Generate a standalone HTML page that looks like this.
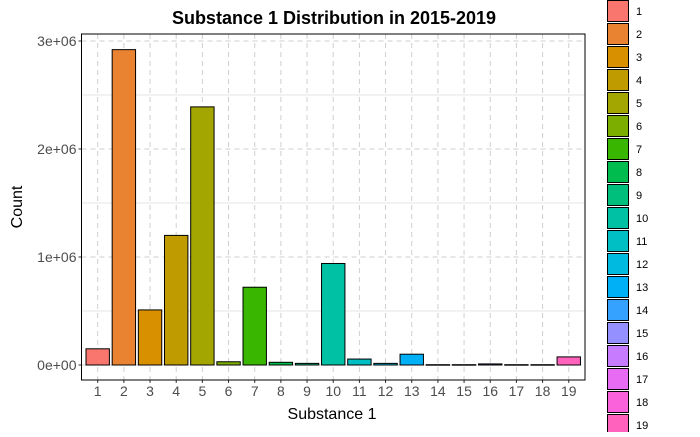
<!DOCTYPE html>
<html><head><meta charset="utf-8"><style>
body{margin:0;background:#fff;width:700px;height:432px;overflow:hidden;font-family:"Liberation Sans",sans-serif}
</style></head><body>
<svg id="c" width="700" height="432" xmlns="http://www.w3.org/2000/svg">
<text x="334" y="24" text-anchor="middle" font-size="18" font-weight="bold" fill="#000">Substance 1 Distribution in 2015-2019</text>
<text x="332" y="419" text-anchor="middle" font-size="16" fill="#000">Substance 1</text>
<text transform="translate(22,207) rotate(-90)" text-anchor="middle" font-size="16" fill="#000">Count</text>
<g id="grid"></g><g id="bars"></g><g id="axes"></g><g id="legend"></g>
</svg>
<script>
const categories=["1","2","3","4","5","6","7","8","9","10","11","12","13","14","15","16","17","18","19"];
const counts=[150000,2920000,510000,1200000,2390000,30000,720000,25000,15000,940000,55000,15000,100000,3000,3000,10000,3000,3000,75000];
const colors=["#F8766D","#EA8331","#D89000","#C09B00","#A3A500","#7CAE00","#39B600","#00BB4E","#00BF7D","#00C1A3","#00BFC4","#00BAE0","#00B0F6","#35A2FF","#9590FF","#C77CFF","#E76BF3","#FA62DB","#FF62BC"];
const yTicks=[0,1000000,2000000,3000000];
const yTickLabels=["0e+00","1e+06","2e+06","3e+06"];
const NS="http://www.w3.org/2000/svg";
const L=81.5,R=585,T=34,B=380;
const x0=97.7,step=26.17;
function xs(i){return x0+i*step;}
function ys(v){return 365-v*108/1e6;}
function mk(p,tag,a){const e=document.createElementNS(NS,tag);for(const k in a)e.setAttribute(k,a[k]);document.getElementById(p).appendChild(e);return e;}
// minor grid
for(let i=0;i<yTicks.length;i++){
 const m=mk('grid','line',{x1:L,x2:R,y1:ys(yTicks[i]+500000),y2:ys(yTicks[i]+500000),stroke:'#e6e6e6','stroke-width':1});
 
 
 const g=mk('grid','line',{x1:L,x2:R,y1:ys(yTicks[i]),y2:ys(yTicks[i]),stroke:'#cfcfcf','stroke-width':1,'stroke-dasharray':'5,4'});
 
 
 const t=mk('axes','text',{x:L-5,y:ys(yTicks[i])+5,'text-anchor':'end','font-size':14,fill:'#4d4d4d'});
 t.textContent=yTickLabels[i];
 
 
 const tk=mk('axes','line',{x1:L-3,x2:L,y1:ys(yTicks[i]),y2:ys(yTicks[i]),stroke:'#333'});
 
 
}
for(let i=0;i<categories.length;i++){
 const g=mk('grid','line',{x1:xs(i),x2:xs(i),y1:T,y2:B,stroke:'#cfcfcf','stroke-width':1,'stroke-dasharray':'5,4'});
 
 
 const y=ys(counts[i]);
 const b=mk('bars','rect',{x:xs(i)-11.7,y:y,width:23.4,height:Math.max(ys(0)-y,0.5),fill:colors[i],stroke:'#000','stroke-width':1});
 
 
 const t=mk('axes','text',{x:xs(i),y:B+16,'text-anchor':'middle','font-size':14,fill:'#4d4d4d'});
 t.textContent=categories[i];
 
 
 const tk=mk('axes','line',{x1:xs(i),x2:xs(i),y1:B,y2:B+3,stroke:'#333'});
 
 
 const lb=mk('legend','rect',{x:607.5,y:0.5+i*23,width:21,height:21,fill:colors[i],stroke:'#000','stroke-width':1});
 
 
 const lt=mk('legend','text',{x:636,y:15+i*23,'font-size':11,fill:'#000'});
 lt.textContent=categories[i];
 
 
}
const fr=mk('axes','rect',{x:L,y:T,width:R-L,height:B-T,fill:'none',stroke:'#000','stroke-width':1});


</script>
</body></html>
